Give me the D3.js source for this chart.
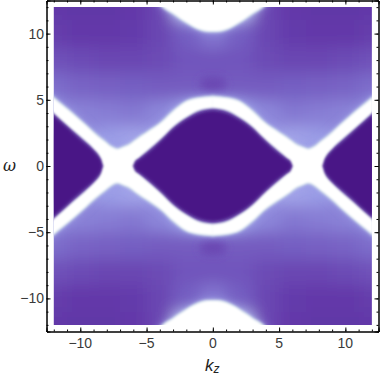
<!DOCTYPE html>
<html>
<head>
<meta charset="utf-8">
<script src="https://cdn.jsdelivr.net/npm/d3@7"></script>
<style>
  html, body { margin: 0; padding: 0; background: #fff; }
  svg { display: block; }
  text { font-family: "Liberation Sans", sans-serif; }
</style>
</head>
<body>
<div id="chart"></div>
<script>
// values (the plot is mirrored in k and in omega)
const gridK = [0, 2, 4, 6, 8, 10, 12]
const gridW = [0, 2, 4, 6, 8, 10, 12]
const gridLevels = [
  [0.00, 0.00, 0.00, 0.66, 0.62, 0.00, 0.00],
  [0.00, 0.00, 0.66, 0.72, 0.70, 0.60, 0.00],
  [0.70, 0.70, 0.62, 0.56, 0.58, 0.60, 0.62],
  [0.44, 0.45, 0.45, 0.46, 0.47, 0.48, 0.52],
  [0.42, 0.42, 0.38, 0.36, 0.36, 0.38, 0.40],
  [0.56, 0.46, 0.36, 0.31, 0.30, 0.30, 0.32],
  [0.90, 0.80, 0.36, 0.30, 0.28, 0.28, 0.29]
]
// white band: outer (pale side) and inner (dark side) edge in omega
const bandK = [0, 1, 2, 3, 3.8, 5, 5.6, 5.9, 6.1, 6.8, 7.2, 7.7, 8.2, 8.4, 9, 9.6, 10.5, 12, 13]
const bandOuter = [5.22, 5.12, 4.85, 4.1, 3.34, 2.5, 2.1, 1.88, 1.72, 1.38, 1.25, 1.45, 1.85, 2.0, 2.5, 3.05, 3.85, 5.1, 6]
const bandInner = [4.42, 4.25, 3.72, 3.0, 2.2, 1.15, 0.65, 0.4, 0, 0, 0, 0, 0, 0.55, 1.35, 1.92, 2.7, 4.05, 4.95]
// white lobes at top and bottom
const lobeK = [0, 0.5, 1, 1.5, 2, 2.5, 3, 3.7, 4.4]
const lobeW = [10.2, 10.22, 10.35, 10.58, 10.87, 11.2, 11.55, 12.0, 12.7]
// edge of the dark lens and of the dark side wedges
const lensK = [0, 1, 2, 3, 4, 5, 5.6, 6.0, 6.1]
const lensW = [4.3, 4.12, 3.62, 2.9, 1.95, 1.05, 0.6, 0.3, 0]
const wedgeK = [8.2, 8.3, 8.6, 9.6, 10, 11, 12, 13]
const wedgeW = [0, 0.4, 0.85, 1.82, 2.15, 3.05, 3.95, 4.85]
// slightly darker spot above and below the lens
const spotK = [0]
const spotW = [6.2]
const spotLevels = [0.36]

const xTicks = [-10, -5, 0, 5, 10]
const yTicks = [-10, -5, 0, 5, 10]
const minorTicks = d3.range(-12, 13)

const width = 380
const height = 376

const x = d3.scaleLinear().domain([-12.55, 12.5]).range([46.5, 378.5])
const y = d3.scaleLinear().domain([12.5, -12.5]).range([0.5, 331.5])

const color = d3.scaleLinear()
  .domain([0, 0.3, 0.5, 0.7, 1])
  .range(["#4a1486", "#6339a9", "#7a68c8", "#9a9ce6", "#ffffff"])

const svg = d3.select("#chart").append("svg")
  .attr("width", width)
  .attr("height", height)

const defs = svg.append("defs")
defs.append("clipPath").attr("id", "plot")
  .append("rect")
  .attr("x", x(-12)).attr("y", y(12))
  .attr("width", x(12) - x(-12)).attr("height", y(-12) - y(12))

function blur(id, s) {
  defs.append("filter").attr("id", id)
    .attr("filterUnits", "userSpaceOnUse")
    .attr("x", -60).attr("y", -60).attr("width", 500).attr("height", 500)
    .append("feGaussianBlur").attr("stdDeviation", s)
}
blur("b8", 8)
blur("b5", 5)
blur("b4", 4)
blur("b2", 2)
blur("b1", 1.4)
blur("b06", 0.8)

const plot = svg.append("g").attr("clip-path", "url(#plot)")

// background cells
const cells = []
gridW.forEach((w, j) => gridK.forEach((k, i) => {
  ;[1, -1].forEach(sk => [1, -1].forEach(sw => {
    if ((k === 0 && sk < 0) || (w === 0 && sw < 0)) return
    cells.push({ k: k * sk, w: w * sw, v: gridLevels[j][i] })
  }))
}))
const edge = v => Math.abs(v) === 12 ? 10 : 1
plot.append("g").attr("filter", "url(#b8)")
  .selectAll("rect").data(cells).join("rect")
  .attr("x", d => x(d.k - (d.k < 0 ? edge(d.k) : 1)))
  .attr("y", d => y(d.w + (d.w > 0 ? edge(d.w) : 1)))
  .attr("width", d => x(d.k + (d.k > 0 ? edge(d.k) : 1)) - x(d.k - (d.k < 0 ? edge(d.k) : 1)))
  .attr("height", d => y(d.w - (d.w < 0 ? edge(d.w) : 1)) - y(d.w + (d.w > 0 ? edge(d.w) : 1)))
  .attr("fill", d => color(d.v))
  .attr("shape-rendering", "crispEdges")

// dark spots
const spots = []
spotK.forEach((k, i) => [1, -1].forEach(s => spots.push({ k, w: spotW[i] * s, v: spotLevels[i] })))
plot.append("g").attr("filter", "url(#b4)")
  .selectAll("ellipse").data(spots).join("ellipse")
  .attr("cx", d => x(d.k)).attr("cy", d => y(d.w))
  .attr("rx", 13).attr("ry", 7)
  .attr("fill", d => color(d.v))

const quadrants = [[1, 1], [-1, 1], [1, -1], [-1, -1]]
const bandRows = bandK.map((k, i) => ({ k, outer: bandOuter[i], inner: bandInner[i] }))
const lobeRows = lobeK.map((k, i) => ({ k, w: lobeW[i] }))

const bandPath = ([sk, sw]) => d3.area()
  .x(d => x(sk * d.k))
  .y0(d => y(sw * d.outer))
  .y1(d => y(sw * d.inner))
  .curve(d3.curveMonotoneX)(bandRows)

const lobeMirror = lobeRows.slice().reverse().map(d => ({ k: -d.k, w: d.w })).concat(lobeRows.slice(1))
const lobePath = sw => d3.area()
  .x(d => x(d.k))
  .y0(y(sw * 13.5))
  .y1(d => y(sw * d.w))
  .curve(d3.curveMonotoneX)(lobeMirror)

// soft halo on the outside of the white shapes
function whiteShapes(g, fill, stroke) {
  g.selectAll("path.band").data(quadrants).join("path").attr("class", "band")
    .attr("d", bandPath).attr("fill", fill)
    .attr("stroke", stroke ? fill : "none").attr("stroke-width", stroke || 0)
  g.selectAll("path.lobe").data([1, -1]).join("path").attr("class", "lobe")
    .attr("d", lobePath).attr("fill", fill)
    .attr("stroke", stroke ? fill : "none").attr("stroke-width", stroke || 0)
}
whiteShapes(plot.append("g").attr("filter", "url(#b5)"), "#a4a8ec")
whiteShapes(plot.append("g").attr("filter", "url(#b1)"), "#cfdcea", 3)

// dark lens and side wedges
const lensRows = lensK.map((k, i) => ({ k, w: lensW[i] }))
const wedgeRows = wedgeK.map((k, i) => ({ k, w: wedgeW[i] }))
const darkParts = [
  lensRows.slice().reverse().map(d => ({ k: -d.k, w: d.w })).concat(lensRows.slice(1)),
  wedgeRows,
  wedgeRows.map(d => ({ k: -d.k, w: d.w })).reverse()
]
plot.append("g").attr("filter", "url(#b2)")
  .selectAll("path").data(darkParts).join("path")
  .attr("d", d3.area()
    .x(d => x(d.k))
    .y0(d => y(d.w))
    .y1(d => y(-d.w))
    .curve(d3.curveMonotoneX))
  .attr("fill", color(0))

// white core
whiteShapes(plot.append("g").attr("filter", "url(#b06)"), "#ffffff")

// frame and ticks
const frame = svg.append("g").attr("fill", "none")
function axisPair(axisFn, scale, move, major, size) {
  const g = frame.append("g").attr("transform", move)
  g.call(axisFn(scale).tickValues(minorTicks).tickSize(-2).tickFormat(""))
  g.append("g").call(axisFn(scale).tickValues(major).tickSize(-size).tickFormat(""))
  g.selectAll(".domain").attr("stroke", "#000").attr("stroke-width", 1)
  g.selectAll("line").attr("stroke", "#000")
  return g
}
axisPair(d3.axisBottom, x, `translate(0,${y.range()[1]})`, xTicks, 4)
axisPair(d3.axisTop, x, `translate(0,${y.range()[0]})`, xTicks, 4)
axisPair(d3.axisLeft, y, `translate(${x.range()[0]},0)`, yTicks, 4)
axisPair(d3.axisRight, y, `translate(${x.range()[1]},0)`, yTicks, 4)

const fmt = d => d < 0 ? "\u2212" + Math.abs(d) : String(d)
svg.append("g").selectAll("text").data(xTicks).join("text")
  .attr("x", d => x(d)).attr("y", 348)
  .attr("text-anchor", "middle").attr("font-size", 14).attr("fill", "#3a3a3a")
  .text(fmt)
svg.append("g").selectAll("text").data(yTicks).join("text")
  .attr("x", 44).attr("y", d => y(d) + 5)
  .attr("text-anchor", "end").attr("font-size", 14).attr("fill", "#3a3a3a")
  .text(fmt)

svg.append("text").attr("x", 3).attr("y", 171)
  .attr("font-size", 16).attr("font-style", "italic").attr("fill", "#222")
  .style("font-family", "'DejaVu Serif', serif")
  .text("\u03c9")
const kz = svg.append("text").attr("x", 205).attr("y", 371)
  .attr("font-size", 17).attr("font-style", "italic").attr("fill", "#222")
kz.append("tspan").text("k")
kz.append("tspan").attr("dy", 2).attr("font-size", 12).text("z")
</script>
</body>
</html>
